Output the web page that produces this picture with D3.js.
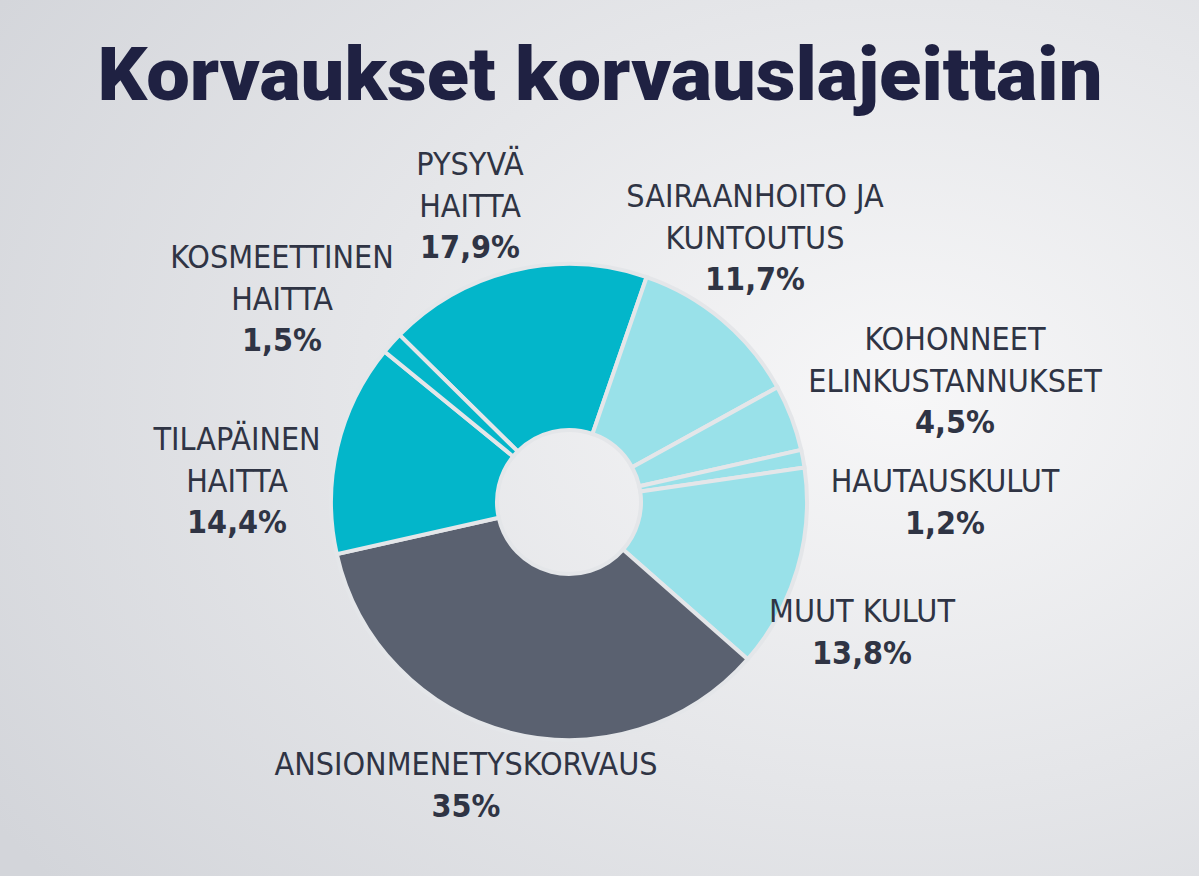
<!DOCTYPE html>
<html><head><meta charset="utf-8">
<script src="https://cdn.jsdelivr.net/npm/d3@7"></script>
<style>body{margin:0;overflow:hidden}</style>
</head><body>
<svg id="c" width="1199" height="876"></svg>
<script>
const categories = ["PYSYVÄ HAITTA","SAIRAANHOITO JA KUNTOUTUS","KOHONNEET ELINKUSTANNUKSET","HAUTAUSKULUT","MUUT KULUT","ANSIONMENETYSKORVAUS","TILAPÄINEN HAITTA","KOSMEETTINEN HAITTA"];
const values = [17.9,11.7,4.5,1.2,13.8,35,14.4,1.5];
const valueLabels = ["17,9%","11,7%","4,5%","1,2%","13,8%","35%","14,4%","1,5%"];
const labelLines = [["PYSYVÄ","HAITTA"],["SAIRAANHOITO JA","KUNTOUTUS"],["KOHONNEET","ELINKUSTANNUKSET"],["HAUTAUSKULUT"],["MUUT KULUT"],["ANSIONMENETYSKORVAUS"],["TILAPÄINEN","HAITTA"],["KOSMEETTINEN","HAITTA"]];
const groups = ["haitta","kulut","kulut","kulut","kulut","ansio","haitta","haitta"];

const layout = [[470,175],[755,207],[955,350],[945,492],[862,622],[466,775],[237,450],[282,268]];
const colors = {haitta:"#03b6ca", kulut:"#99e1e9", ansio:"#5a6170"};

const svg = d3.select("#c");
const defs = svg.append("defs");
const g1 = defs.append("radialGradient").attr("id","bg").attr("cx","0.75").attr("cy","0.45").attr("r","0.9");
g1.append("stop").attr("offset","0").attr("stop-color","#f7f7f8");
g1.append("stop").attr("offset","1").attr("stop-color","#d3d5da");
svg.append("rect").attr("width",1199).attr("height",876).attr("fill","url(#bg)");

svg.append("text").attr("x",600).attr("y",100).attr("text-anchor","middle")
  .attr("font-family","Roboto").attr("font-weight",900).attr("font-size",74)
  .attr("fill","#1f2142").attr("textLength",1005).attr("lengthAdjust","spacingAndGlyphs")
  .text("Korvaukset korvauslajeittain");

const cx=569, cy=502;
const start = -45.4*Math.PI/180;
const pie = d3.pie().sort(null).startAngle(start).endAngle(start+2*Math.PI);
const arc = d3.arc().innerRadius(72).outerRadius(238);
svg.append("g").attr("transform",`translate(${cx},${cy})`)
  .selectAll("path").data(pie(values)).join("path")
  .attr("d",arc).attr("fill",(d,i)=>colors[groups[i]])
  .attr("stroke","#e4e6e9").attr("stroke-width",4);

const lab = svg.append("g").attr("font-family","'Liberation Sans Narrow','DejaVu Sans Condensed',sans-serif")
  .attr("font-size",32).attr("fill","#2f3444").attr("text-anchor","middle");
categories.forEach((c,i)=>{
  const [x,y]=layout[i];
  labelLines[i].forEach((l,j)=>lab.append("text").attr("x",x).attr("y",y+j*41.5).text(l));
  lab.append("text").attr("x",x).attr("y",y+labelLines[i].length*41.5).attr("font-weight","bold").text(valueLabels[i]);
});
</script>
</body></html>
